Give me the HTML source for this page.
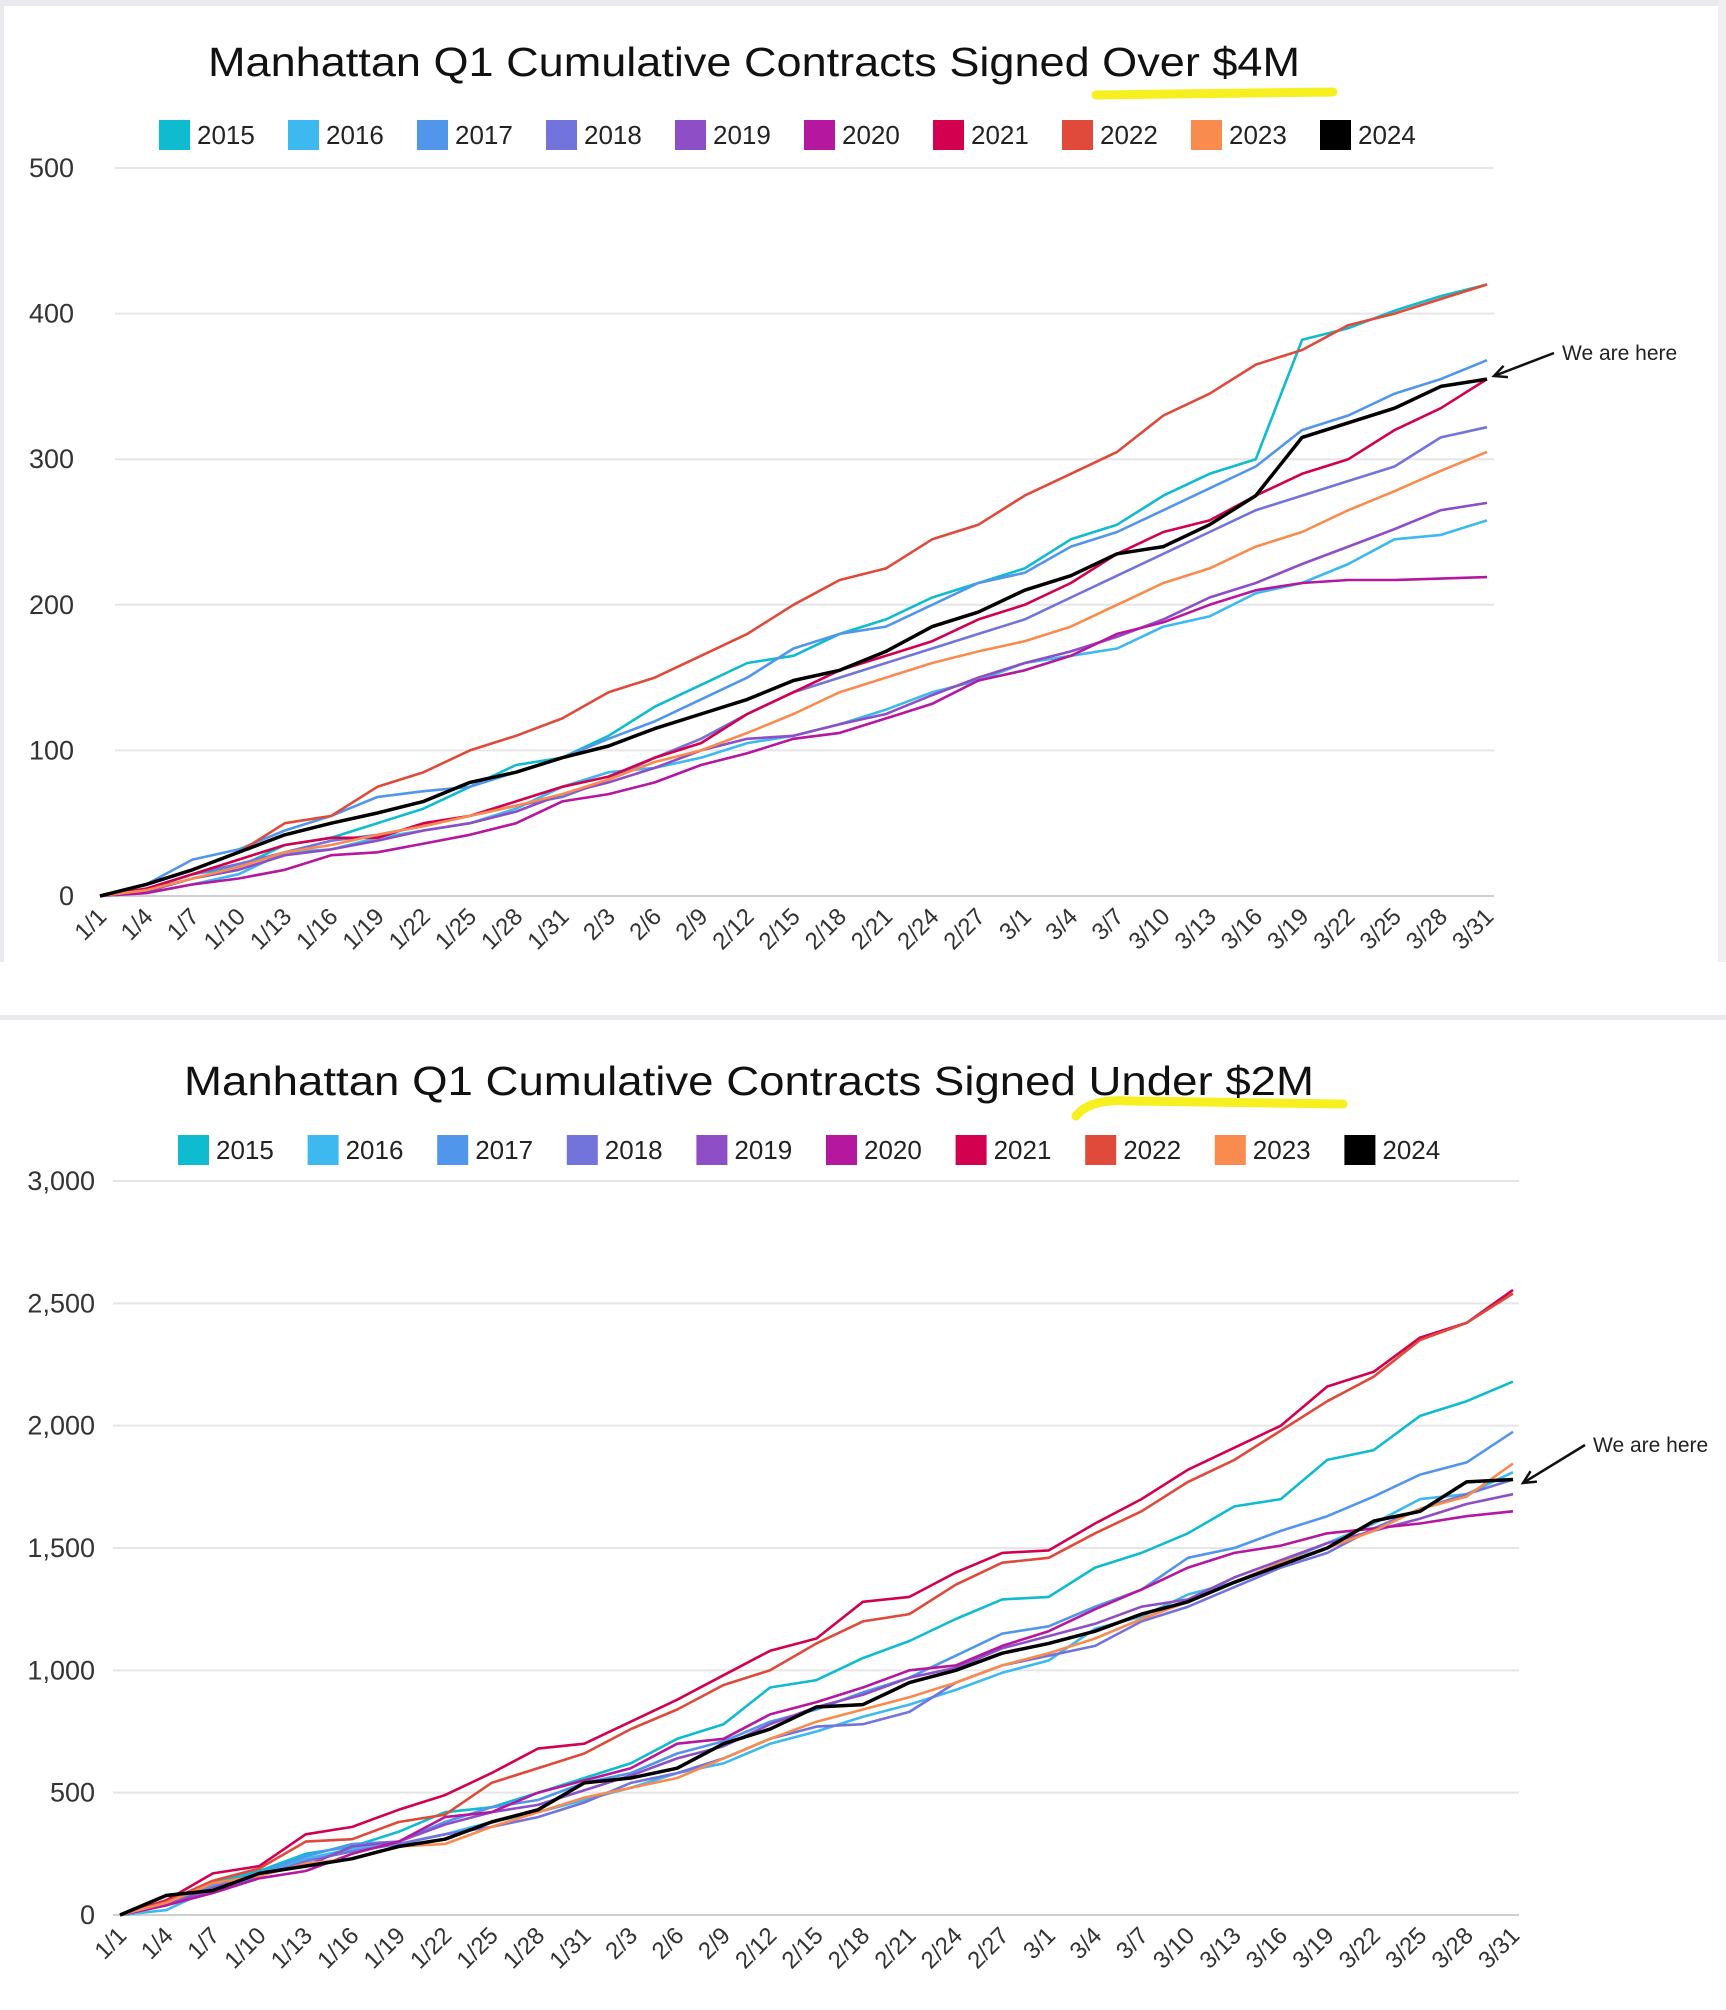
<!DOCTYPE html>
<html><head><meta charset="utf-8"><style>
html,body{margin:0;padding:0;background:#fff;}
svg{display:block;font-family:"Liberation Sans",sans-serif;}
</style></head><body>
<svg id="root" width="1726" height="2010" viewBox="0 0 1726 2010">
<rect x="0" y="0" width="1726" height="6" fill="#e9e9ee"/>
<rect x="0" y="0" width="4" height="962" fill="#e9e9ee"/>
<rect x="1718" y="0" width="8" height="962" fill="#f0f0f3"/>
<rect x="0" y="1015" width="1726" height="5" fill="#e9e9ee"/>
<path d="M1096 95 L1333 92" stroke="#f7f020" stroke-width="9" stroke-linecap="round" fill="none"/>
<path d="M1076 1116 Q1090 1098 1130 1101 L1343 1104" stroke="#f7f020" stroke-width="9" stroke-linecap="round" fill="none"/>
<g id="c1"></g>
<g id="c2"></g>
</svg>
<script>
const years = ["2015","2016","2017","2018","2019","2020","2021","2022","2023","2024"];
const colors = ["#0fbccf","#3db9f0","#5296ec","#7373dc","#8e4ec6","#b5189e","#d3004f","#df4a3b","#f98b4e","#000000"];
const dateLabels = ["1/1","1/4","1/7","1/10","1/13","1/16","1/19","1/22","1/25","1/28","1/31","2/3","2/6","2/9","2/12","2/15","2/18","2/21","2/24","2/27","3/1","3/4","3/7","3/10","3/13","3/16","3/19","3/22","3/25","3/28","3/31"];
const ticksOver = [0,100,200,300,400,500];
const ticksUnder = [0,500,1000,1500,2000,2500,3000];
const over2015 = [0,5,15,20,35,40,50,60,75,90,95,110,130,145,160,165,180,190,205,215,225,245,255,275,290,300,382,390,402,412,420];
const over2016 = [0,2,8,15,30,32,40,45,50,60,75,85,88,95,105,110,118,128,140,148,160,165,170,185,192,208,215,228,245,248,258];
const over2017 = [0,8,25,32,45,55,68,72,75,85,95,108,120,135,150,170,180,185,200,215,222,240,250,265,280,295,320,330,345,355,368];
const over2018 = [0,5,15,22,30,38,42,48,55,62,68,80,95,108,125,140,150,160,170,180,190,205,220,235,250,265,275,285,295,315,322];
const over2019 = [0,3,12,18,28,32,38,45,50,58,70,78,88,100,108,110,118,125,138,150,160,168,178,190,205,215,228,240,252,265,270];
const over2020 = [0,2,8,12,18,28,30,36,42,50,65,70,78,90,98,108,112,122,132,148,155,165,180,188,200,210,215,217,217,218,219];
const over2021 = [0,5,15,25,35,40,40,50,55,65,75,82,95,105,125,140,155,165,175,190,200,215,235,250,258,275,290,300,320,335,355];
const over2022 = [0,8,18,30,50,55,75,85,100,110,122,140,150,165,180,200,217,225,245,255,275,290,305,330,345,365,375,392,400,410,420];
const over2023 = [0,4,12,20,30,35,42,48,55,62,70,80,92,100,112,125,140,150,160,168,175,185,200,215,225,240,250,265,278,292,305];
const over2024 = [0,8,18,30,42,50,57,65,78,85,95,103,115,125,135,148,155,168,185,195,210,220,235,240,255,275,315,325,335,350,355];
const under2015 = [0,40,130,180,250,280,340,420,440,500,560,620,720,780,930,960,1050,1120,1210,1290,1300,1420,1480,1560,1670,1700,1860,1900,2040,2100,2180];
const under2016 = [0,20,110,160,230,270,290,330,380,420,470,520,580,620,700,750,810,860,920,990,1040,1170,1220,1310,1360,1440,1520,1600,1700,1720,1810];
const under2017 = [0,50,120,170,240,290,300,380,440,470,540,580,660,710,790,840,910,970,1060,1150,1180,1260,1330,1460,1500,1570,1630,1710,1800,1850,1975];
const under2018 = [0,40,100,160,220,260,290,330,360,400,460,540,580,640,720,770,780,830,950,1020,1060,1100,1200,1260,1340,1420,1480,1580,1660,1720,1780];
const under2019 = [0,40,110,170,200,280,300,370,420,450,510,570,640,690,780,850,900,970,1010,1090,1140,1190,1260,1290,1380,1450,1520,1570,1620,1680,1720];
const under2020 = [0,40,90,150,180,250,300,400,420,500,550,600,700,720,820,870,930,1000,1020,1100,1160,1250,1330,1420,1480,1510,1560,1580,1600,1630,1650];
const under2021 = [0,60,170,200,330,360,430,490,580,680,700,790,880,980,1080,1130,1280,1300,1400,1480,1490,1600,1700,1820,1910,2000,2160,2220,2360,2420,2555];
const under2022 = [0,55,140,190,300,310,380,410,540,600,660,760,840,940,1000,1110,1200,1230,1350,1440,1460,1560,1650,1770,1860,1980,2100,2200,2350,2420,2540];
const under2023 = [0,50,130,160,210,230,280,290,360,420,480,520,560,640,720,790,840,890,950,1020,1070,1130,1210,1280,1360,1440,1500,1570,1660,1710,1845];
const under2024 = [0,80,100,170,200,230,280,310,380,430,540,560,600,700,760,850,860,950,1000,1070,1110,1160,1230,1280,1360,1430,1500,1610,1650,1770,1780];

const NS = "http://www.w3.org/2000/svg";
function mk(tag, parent, attrs){ const e=document.createElementNS(NS,tag); for(const k in attrs) e.setAttribute(k,attrs[k]); parent.appendChild(e); return e; }

function drawChart(g, cfg){
  const yScale = v => cfg.y0 - (v/cfg.max)*(cfg.y0-cfg.yTop);
  const xScale = i => cfg.x0 + i*(cfg.x1-cfg.x0)/(dateLabels.length-1);
  const t = mk("text", g, {x:cfg.titleX, y:cfg.titleY, "font-size":41, fill:"#111", "text-anchor":"middle", textLength:cfg.titleLen, lengthAdjust:"spacingAndGlyphs"});
  t.textContent = cfg.title;
  
  
  years.forEach((yr,k)=>{
    const lg = mk("g", g, {});
    
    
    const lx = cfg.legX + k*cfg.legStep;
    mk("rect", lg, {x:lx, y:cfg.legY-15, width:31, height:30, fill:colors[k]});
    const lt = mk("text", lg, {x:lx+38, y:cfg.legY+9, "font-size":26, fill:"#222"});
    lt.textContent = yr;
  });
  cfg.ticks.forEach(v=>{
    const y = yScale(v);
    const gl = mk("line", g, {x1:cfg.gx0, x2:cfg.gx1, y1:y, y2:y, stroke: v===0?"#cfcfcf":"#e6e6e6", "stroke-width":2});
    
    
    const tl = mk("text", g, {x:cfg.labX, y:y+9, "font-size":27, fill:"#333", "text-anchor":"end"});
    tl.textContent = v.toLocaleString("en-US");
    
    
  });
  dateLabels.forEach((d,i)=>{
    const x = xScale(i)+8, y = cfg.y0+22;
    const xl = mk("text", g, {x:x, y:y, "font-size":24, fill:"#333", "text-anchor":"end", transform:`rotate(-45 ${x} ${y})`});
    xl.textContent = d;
    
    
  });
  cfg.series.forEach((s,k)=>{
    const pts = s.map((v,i)=>xScale(i).toFixed(1)+","+yScale(v).toFixed(1)).join(" ");
    const pl = mk("polyline", g, {points:pts, fill:"none", stroke:colors[k], "stroke-width": k===9?3.5:2.6, "stroke-linejoin":"round"});
    
    
  });
  const ag = mk("g", g, {});
  
  
  const [ax,ay,bx,by] = cfg.arrow;
  mk("line", ag, {x1:ax, y1:ay, x2:bx, y2:by, stroke:"#111", "stroke-width":2.5});
  const ang = Math.atan2(by-ay, bx-ax);
  const h = 14;
  const p1 = [bx - h*Math.cos(ang-0.45), by - h*Math.sin(ang-0.45)];
  const p2 = [bx - h*Math.cos(ang+0.45), by - h*Math.sin(ang+0.45)];
  mk("polyline", ag, {points:`${p1} ${bx},${by} ${p2}`, fill:"none", stroke:"#111", "stroke-width":2.5});
  const at = mk("text", ag, {x:ax+8, y:ay+7, "font-size":21, fill:"#222"});
  at.textContent = "We are here";
}

drawChart(document.getElementById("c1"), {
  title:"Manhattan Q1 Cumulative Contracts Signed Over $4M", titleX:754, titleY:76, titleLen:1092,
  legX:159, legStep:129, legY:135,
  ticks:ticksOver, max:500, y0:896, yTop:168, x0:100, x1:1487, gx0:115, gx1:1494, labX:74,
  series:[over2015,over2016,over2017,over2018,over2019,over2020,over2021,over2022,over2023,over2024],
  arrow:[1554,353,1494,376]
});
drawChart(document.getElementById("c2"), {
  title:"Manhattan Q1 Cumulative Contracts Signed Under $2M", titleX:749, titleY:1095, titleLen:1130,
  legX:178, legStep:129.6, legY:1150,
  ticks:ticksUnder, max:3000, y0:1915, yTop:1181, x0:120, x1:1513, gx0:113, gx1:1519, labX:95,
  series:[under2015,under2016,under2017,under2018,under2019,under2020,under2021,under2022,under2023,under2024],
  arrow:[1585,1445,1523,1483]
});
</script>
</body></html>
